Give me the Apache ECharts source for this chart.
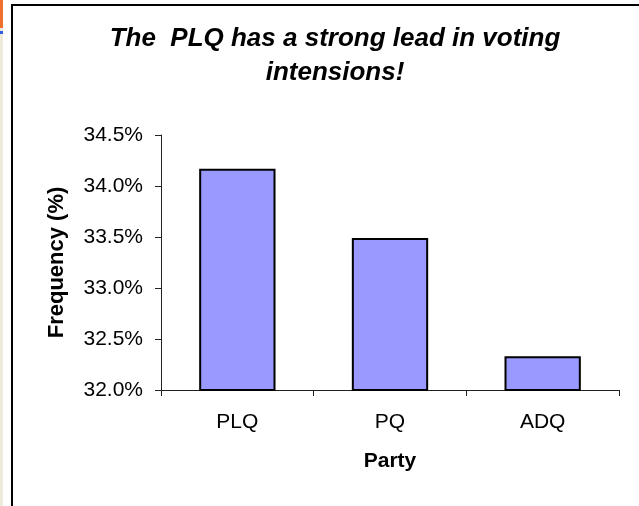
<!DOCTYPE html>
<html>
<head>
<meta charset="utf-8">
<script src="https://cdn.jsdelivr.net/npm/echarts@6/dist/echarts.min.js"></script>
<style>html,body{margin:0;padding:0;background:#fff;}#c{width:639px;height:506px;}</style>
</head>
<body>
<div id="c"></div>
<script>
const categories = ['PLQ', 'PQ', 'ADQ'];
const frequency = [34.17, 33.49, 32.33];
const yTicks = { min: 32.0, max: 34.5, step: 0.5 };
const titleText = 'The  PLQ has a strong lead in voting\nintensions!';

const chart = echarts.init(document.getElementById('c'), null, { renderer: 'canvas' });
const FONT = '"Liberation Sans", Arial, sans-serif';
chart.setOption({
  backgroundColor: '#fff',
  animation: false,
  title: {
    text: titleText,
    left: 330, top: 17, textAlign: 'center',
    textStyle: { fontFamily: FONT, fontSize: 26, fontWeight: 'bold', fontStyle: 'italic', color: '#000', lineHeight: 34 }
  },
  graphic: [
    { type: 'rect', shape: { x: 0, y: 0, width: 3, height: 506 }, style: { fill: '#EEEADB' }, silent: true },
    { type: 'rect', shape: { x: 0, y: 0, width: 3, height: 28 }, style: { fill: '#F07030' }, silent: true },
    { type: 'rect', shape: { x: 0, y: 31, width: 3, height: 3 }, style: { fill: '#3060E0' }, silent: true },
    { type: 'rect', shape: { x: 12, y: 5, width: 700, height: 600 }, style: { fill: 'none', stroke: '#000', lineWidth: 2 }, silent: true }
  ],
  grid: { left: 161, top: 135, right: 20, bottom: 116, containLabel: false },
  xAxis: {
    type: 'category', data: categories,
    name: 'Party', nameLocation: 'middle', nameGap: 61,
    nameTextStyle: { fontFamily: FONT, fontSize: 21, fontWeight: 'bold', color: '#000' },
    axisLine: { lineStyle: { color: '#222', width: 1 } },
    axisTick: { show: true, length: 6, lineStyle: { color: '#222' } },
    axisLabel: { fontFamily: FONT, fontSize: 21, color: '#000', margin: 22 }
  },
  yAxis: {
    type: 'value', min: yTicks.min, max: yTicks.max, interval: yTicks.step,
    name: 'Frequency (%)', nameLocation: 'middle', nameGap: 93,
    nameTextStyle: { fontFamily: FONT, fontSize: 22, fontWeight: 'bold', color: '#000' },
    axisLine: { show: true, lineStyle: { color: '#222', width: 1 } },
    axisTick: { show: true, length: 6, lineStyle: { color: '#222' } },
    splitLine: { show: false },
    axisLabel: { fontFamily: FONT, fontSize: 21, color: '#000', margin: 18, formatter: v => v.toFixed(1) + '%' }
  },
  series: [{
    type: 'bar', data: frequency, barWidth: '50%',
    itemStyle: { color: '#9999FF', borderColor: '#000', borderWidth: 2 }
  }]
});
</script>
</body>
</html>
